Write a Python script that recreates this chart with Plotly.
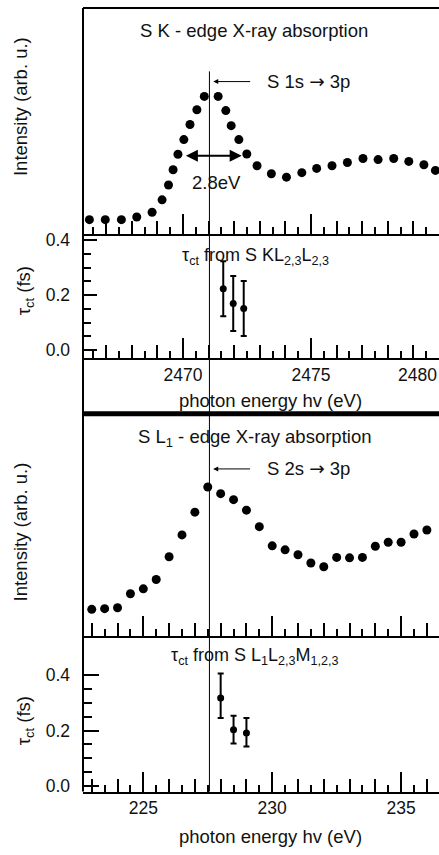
import plotly.graph_objects as go

W, H = 439, 855

# ---------------- data ----------------
# S K-edge X-ray absorption (photon energy in eV, intensity arb. u.)
k_energy = [2466.34, 2466.96, 2467.59, 2468.19, 2468.79, 2469.18, 2469.43, 2469.61,
            2469.80, 2470.03, 2470.27, 2470.54, 2470.83, 2471.37, 2471.67, 2471.88,
            2472.18, 2472.49, 2472.89, 2473.45, 2474.04, 2474.64, 2475.22, 2475.82,
            2476.42, 2477.03, 2477.62, 2478.23, 2478.82, 2479.41, 2479.86]
k_intensity = [0.063, 0.063, 0.063, 0.075, 0.096, 0.151, 0.217, 0.285,
               0.354, 0.419, 0.486, 0.552, 0.611, 0.611, 0.548, 0.481,
               0.419, 0.355, 0.303, 0.267, 0.252, 0.272, 0.291, 0.303,
               0.317, 0.335, 0.330, 0.335, 0.322, 0.307, 0.282]

# tau_ct from S KL2,3L2,3
k_tau_energy = [2471.57, 2471.96, 2472.37]
k_tau = [0.223, 0.169, 0.151]
k_tau_err = [0.10, 0.10, 0.10]

# S L1-edge X-ray absorption
l_energy = [223.0, 223.5, 224.0, 224.5, 225.0, 225.5, 226.0, 226.5, 227.0, 227.5,
            228.0, 228.5, 229.0, 229.5, 230.0, 230.5, 231.0, 231.5, 232.0, 232.5,
            233.0, 233.5, 234.0, 234.5, 235.0, 235.5, 236.0, 236.5]
l_intensity = [0.121, 0.124, 0.128, 0.191, 0.213, 0.255, 0.357, 0.455, 0.557, 0.670,
               0.640, 0.613, 0.566, 0.492, 0.406, 0.388, 0.366, 0.329, 0.312, 0.354,
               0.352, 0.354, 0.404, 0.422, 0.422, 0.459, 0.477, 0.528]

# tau_ct from S L1L2,3M1,2,3
l_tau_energy = [228.0, 228.5, 229.0]
l_tau = [0.318, 0.203, 0.191]
l_tau_plus = [0.089, 0.051, 0.055]
l_tau_minus = [0.072, 0.050, 0.048]

# resonance positions / FWHM arrow
k_peak = 2471.03
fwhm_left, fwhm_right, fwhm_level = 2470.05, 2472.29, 0.347

k_range = [2466.09, 2480.0]
l_range = [222.66, 236.47]
k_tau_range = [-0.030, 0.4227]
l_tau_range = [-0.0204, 0.541]

k_tick_labels = [2470, 2475, 2480]
l_tick_labels = [225, 230, 235]
tick_labels_tau = ["0.0", "0.2", "0.4"]
tick_vals_tau = [0.0, 0.2, 0.4]
minor_vals_tau = [0.05, 0.10, 0.15, 0.25, 0.30, 0.35]

# ---------------- layout helpers ----------------
FONT = "Liberation Sans, Arial, Helvetica, sans-serif"
INK = "#111111"
ARROW = '<span style="font-family:DejaVu Sans">\u2192</span>'


def py(p):
    return 1 - p / H


def px(p):
    return p / W


XL = px(83)


def xbase(rng, anchor, tick0=0):
    return dict(domain=[XL, 1.0], range=rng, anchor=anchor, showgrid=False, zeroline=False,
                showline=True, linecolor="black", linewidth=2,
                ticks="inside", tickmode="linear", tick0=tick0, dtick=1, ticklen=13,
                tickwidth=2, tickcolor="black",
                minor=dict(ticks="inside", tickmode="linear", tick0=tick0, dtick=0.5,
                           ticklen=7, tickwidth=2, tickcolor="black"),
                showticklabels=False)


def xover(rng, base, anchor, labels, tickvals):
    return dict(overlaying=base, anchor=anchor, range=rng, showgrid=False, zeroline=False,
                showline=False, ticks="inside", tickmode="array", tickvals=tickvals,
                ticklen=20, tickwidth=2, tickcolor="black", showticklabels=labels,
                tickfont=dict(family=FONT, size=17.5, color=INK), ticklabelstandoff=4)


def yint(domain, anchor):
    return dict(domain=domain, range=[0, 1], showgrid=False, zeroline=False, showline=False,
                showticklabels=False, ticks="", anchor=anchor)


def ytau(domain, rng, anchor, ticklen, minorlen):
    return dict(domain=domain, range=rng, anchor=anchor, showgrid=False, zeroline=False,
                showline=False, ticks="inside", tickmode="array", tickvals=tick_vals_tau,
                ticktext=tick_labels_tau, ticklen=ticklen, tickwidth=2, tickcolor="black",
                minor=dict(ticks="inside", tickmode="array", tickvals=minor_vals_tau,
                           ticklen=minorlen, tickwidth=2, tickcolor="black"),
                tickfont=dict(family=FONT, size=17.5, color=INK), ticklabelstandoff=12)


fig = go.Figure()

dot = dict(color="black", size=9)
fig.add_trace(go.Scatter(x=k_energy, y=k_intensity, mode="markers", marker=dot,
                         xaxis="x", yaxis="y", showlegend=False, cliponaxis=False))
fig.add_trace(go.Scatter(x=k_tau_energy, y=k_tau, mode="markers",
                         marker=dict(color="black", size=7),
                         error_y=dict(type="data", array=k_tau_err, color="black",
                                      thickness=2, width=3),
                         xaxis="x2", yaxis="y2", showlegend=False))
fig.add_trace(go.Scatter(x=l_energy, y=l_intensity, mode="markers", marker=dot,
                         xaxis="x3", yaxis="y3", showlegend=False, cliponaxis=False))
fig.add_trace(go.Scatter(x=l_tau_energy, y=l_tau, mode="markers",
                         marker=dict(color="black", size=7),
                         error_y=dict(type="data", symmetric=False, array=l_tau_plus,
                                      arrayminus=l_tau_minus, color="black",
                                      thickness=2, width=3),
                         xaxis="x4", yaxis="y4", showlegend=False))
# invisible companions so the overlay (major-tick) axes get drawn
for xa, ya, xs, ys in (("x5", "y", k_energy, k_intensity), ("x6", "y2", k_tau_energy, k_tau),
                       ("x7", "y3", l_energy, l_intensity), ("x8", "y4", l_tau_energy, l_tau)):
    fig.add_trace(go.Scatter(x=xs, y=ys, mode="markers", marker=dict(opacity=0, size=1),
                             xaxis=xa, yaxis=ya, showlegend=False, hoverinfo="skip"))

d1 = [py(232), py(5)]
d2 = [py(357.7), py(232)]
d3 = [py(638.3), py(413.3)]
d4 = [py(795), py(638.3)]

x1 = xbase(k_range, "y", tick0=2470)
x1["mirror"] = True
fig.update_layout(
    width=W, height=H, margin=dict(l=0, r=0, t=0, b=0),
    paper_bgcolor="white", plot_bgcolor="white",
    font=dict(family=FONT, size=18, color=INK),
    xaxis=x1,
    xaxis2=xbase(k_range, "y2", tick0=2470),
    xaxis3=xbase(l_range, "y3", tick0=225),
    xaxis4=xbase(l_range, "y4", tick0=225),
    xaxis5=xover(k_range, "x", "y", False, k_tick_labels),
    xaxis6=xover(k_range, "x2", "y2", True, k_tick_labels),
    xaxis7=xover(l_range, "x3", "y3", False, l_tick_labels),
    xaxis8=xover(l_range, "x4", "y4", True, l_tick_labels),
    yaxis=yint(d1, "x"),
    yaxis2=ytau(d2, k_tau_range, "x2", 14, 8),
    yaxis3=yint(d3, "x3"),
    yaxis4=ytau(d4, l_tau_range, "x4", 16, 9),
)

# frame lines
fig.add_shape(type="line", xref="paper", yref="paper", x0=XL, x1=XL, y0=py(795), y1=py(4),
              line=dict(color="black", width=2))
fig.add_shape(type="line", xref="paper", yref="paper", x0=XL, x1=1.0, y0=py(413.5), y1=py(413.5),
              line=dict(color="black", width=5))
# resonance marker line
fig.add_shape(type="line", xref="x", yref="paper", x0=k_peak, x1=k_peak, y0=py(795), y1=py(68),
              line=dict(color="black", width=1))

ann = []


def text(x, y, s, size=18.5, xanchor="center", angle=0, xref="paper"):
    ann.append(dict(x=x, y=y, xref=xref, yref="paper", text=s, showarrow=False,
                    xanchor=xanchor, yanchor="middle", textangle=angle,
                    font=dict(family=FONT, size=size, color=INK)))


text(px(254), py(27), "S K - edge X-ray absorption")
text(px(254), py(438), "S L<sub>1</sub> - edge X-ray absorption")
text(px(265), py(78), "S 1s " + ARROW + " 3p", xanchor="left")
text(px(265), py(469), "S 2s " + ARROW + " 3p", xanchor="left")
text(px(216), py(180), "2.8eV")
text(px(255), py(255), "\u03c4<sub>ct</sub> from S KL<sub>2,3</sub>L<sub>2,3</sub>", size=18)
text(px(255), py(659), "\u03c4<sub>ct</sub> from S L<sub>1</sub>L<sub>2,3</sub>M<sub>1,2,3</sub>", size=18)
text(px(270), py(400), "photon energy hv (eV)")
text(px(270), py(840), "photon energy hv (eV)")
text(px(20.5), py(103.5), "Intensity (arb. u.)", angle=-90)
text(px(20.5), py(533), "Intensity (arb. u.)", angle=-90)
text(px(25), py(290), "\u03c4<sub>ct</sub> (fs)", angle=-90)
text(px(25), py(724), "\u03c4<sub>ct</sub> (fs)", angle=-90)
# the edge tick label, nudged inside the right border as in the original
text(px(396), py(375), str(k_tick_labels[-1]), size=17.5, xanchor="left")

# arrows
ann.append(dict(x=2471.18, y=0.677, xref="x", yref="y", ax=2472.68, ay=0.677, axref="x",
                ayref="y", text="", showarrow=True, arrowhead=2, arrowsize=1, arrowwidth=1,
                arrowcolor="black"))
ann.append(dict(x=227.71, y=0.751, xref="x3", yref="y3", ax=229.2, ay=0.751, axref="x3",
                ayref="y3", text="", showarrow=True, arrowhead=2, arrowsize=1, arrowwidth=1,
                arrowcolor="black"))
ann.append(dict(x=fwhm_right, y=fwhm_level, xref="x", yref="y", ax=fwhm_left, ay=fwhm_level,
                axref="x", ayref="y", text="", showarrow=True, arrowhead=2, arrowside="end+start",
                arrowsize=1.2, arrowwidth=2, arrowcolor="black"))
fig.update_layout(annotations=ann)

fig.write_html("out.html")
